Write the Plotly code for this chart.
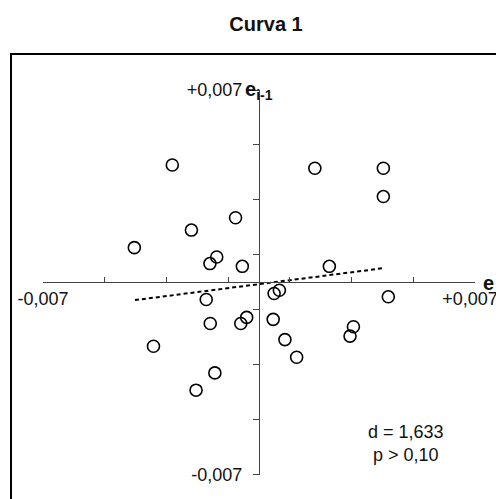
import plotly.graph_objects as go

# residual pairs (e, e_{i-1})
e_cur = [-2.81, 1.81, 4.03, 4.03, -0.76, -2.19, -4.04, -1.37, -1.59, -0.54,
         2.28, -1.71, 0.66, 0.49, 4.19, -1.58, -0.59, -0.40, 0.46, 0.84,
         1.22, 3.06, 2.95, -3.42, -1.43, -2.04]
e_prev = [4.27, 4.15, 4.15, 3.12, 2.35, 1.90, 1.26, 0.92, 0.68, 0.58,
          0.58, -0.63, -0.29, -0.41, -0.53, -1.50, -1.50, -1.28, -1.35, -2.09,
          -2.73, -1.62, -1.96, -2.33, -3.30, -3.93]
e_cur = [v / 1000 for v in e_cur]
e_prev = [v / 1000 for v in e_prev]

# fitted line end points
fit_x = [-0.00402, 0.00408]
fit_y = [-0.00065, 0.00052]

tick_vals = [-0.007, -0.005, -0.003, -0.001, 0.001, 0.003, 0.005, 0.007]
# trailing no-break spaces nudge the right label a little to the left
x_tick_text = ['-0,007', '', '', '', '', '', '', '+0,007\u00a0\u00a0']
y_tick_text = ['-0,007', '', '', '', '', '', '', '+0,007']

FONT = 'Arial, "Liberation Sans", sans-serif'
# the page body adds an 8px margin, so the figure is drawn 8px smaller
OFF = 8
W, H = 504 - OFF, 499 - OFF
L, T = 11 - OFF, 54 - OFF
PW, PH = W - L, H - T


def px(x):
    return (x - OFF - L) / PW


def py(y):
    return (H - (y - OFF)) / PH


fig = go.Figure()

fig.add_trace(go.Scatter(
    x=fit_x, y=fit_y, mode='lines',
    line=dict(color='black', width=2, dash='4px,3px'),
    hoverinfo='skip'
))

fig.add_trace(go.Scatter(
    x=e_cur, y=e_prev, mode='markers',
    marker=dict(symbol='circle-open', size=12, color='black',
                line=dict(color='black', width=1.6))
))

axis_common = dict(
    range=[-0.007, 0.007], tickvals=tick_vals, showgrid=False, zeroline=False,
    showline=True, linecolor='#444', linewidth=1.2, tickcolor='#444',
    tickwidth=1.2, ticklen=5, anchor='free', automargin=False,
    ticklabeloverflow='allow',
    tickfont=dict(family=FONT, size=18, color='#111')
)

fig.update_layout(
    width=W, height=H,
    margin=dict(l=L, r=0, t=T, b=0, autoexpand=False),
    paper_bgcolor='white', plot_bgcolor='white',
    showlegend=False,
    title=dict(text='<b>Curva 1</b>', x=(266 - OFF) / W, xref='container',
               xanchor='center', y=1 - (24 - OFF) / H, yref='container',
               yanchor='middle', font=dict(family=FONT, size=20, color='#111')),
    xaxis=dict(axis_common, domain=[px(43), px(475)], position=py(282),
               ticks='inside', ticktext=x_tick_text),
    yaxis=dict(axis_common, domain=[py(474.5), py(90)], position=px(259),
               ticks='outside', ticklen=6, ticktext=y_tick_text,
               ticklabelstandoff=7),
    shapes=[dict(type='rect', xref='paper', yref='paper',
                 x0=0, x1=1.05, y0=-0.05, y1=1,
                 line=dict(color='black', width=2))],
    annotations=[
        dict(text='<b>e</b>', xref='paper', yref='paper', x=px(496), y=py(283),
             showarrow=False, font=dict(family=FONT, size=20, color='#111')),
        dict(text='<b>e<sub>i-1</sub></b>', xref='paper', yref='paper',
             x=px(243), y=py(76), xanchor='left', showarrow=False,
             font=dict(family=FONT, size=20, color='#111')),
        dict(text='d = 1,633<br>p > 0,10', xref='paper', yref='paper',
             x=px(446), y=py(467), showarrow=False, align='center',
             font=dict(family=FONT, size=18, color='#111')),
    ]
)

fig.write_html('out.html')
